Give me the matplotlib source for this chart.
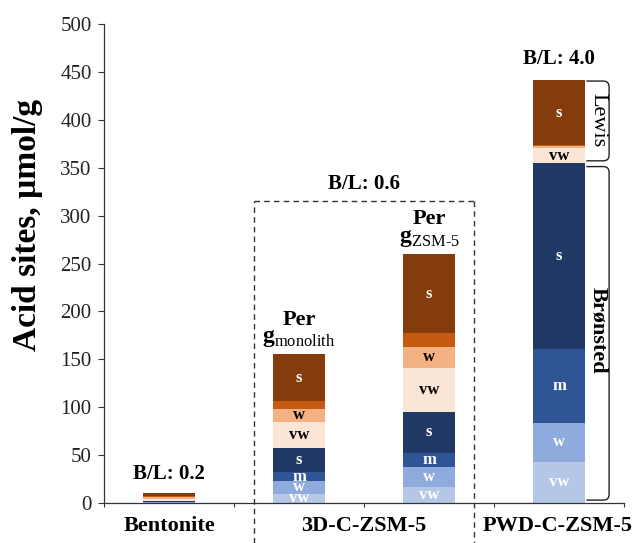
import matplotlib
matplotlib.use("Agg")
import matplotlib.pyplot as plt
from matplotlib.path import Path
from matplotlib.patches import PathPatch
from matplotlib.lines import Line2D

plt.rcParams["font.family"] = ["Liberation Serif", "DejaVu Serif"]
plt.rcParams["mathtext.fontset"] = "custom"
plt.rcParams["mathtext.rm"] = "Liberation Serif"
plt.rcParams["mathtext.bf"] = "Liberation Serif:bold"

# Samples (one stacked bar each)
samples = ["Bentonite", "3D monolith", "3D ZSM-5", "PWD-C-ZSM-5"]

# Acid site densities, umol/g, by strength (very weak, weak, medium, strong)
bronsted_vw = [0.5, 9.7, 16.4, 43.1]
bronsted_w = [0.5, 13.0, 20.9, 40.7]
bronsted_m = [0.3, 9.3, 15.2, 76.6]
bronsted_s = [0.4, 25.7, 42.8, 194.8]
lewis_vw = [2.8, 27.2, 45.9, 15.0]
lewis_w = [1.8, 12.9, 22.0, 2.0]
lewis_m = [1.2, 8.7, 13.9, 1.5]
lewis_s = [2.5, 48.7, 82.5, 67.8]

ratio_labels = ["B/L: 0.2", "B/L: 0.6", "B/L: 4.0"]
group_labels = ["Bentonite", "3D-C-ZSM-5", "PWD-C-ZSM-5"]
yticks = [0, 50, 100, 150, 200, 250, 300, 350, 400, 450, 500]

layers = [
    ("vw", bronsted_vw, "#b4c7e7", "white", True),
    ("w", bronsted_w, "#8faadc", "white", True),
    ("m", bronsted_m, "#2f5597", "white", True),
    ("s", bronsted_s, "#203864", "white", True),
    ("vw", lewis_vw, "#fbe5d6", "black", True),
    ("w", lewis_w, "#f4b183", "black", True),
    ("m", lewis_m, "#c55a11", "black", False),
    ("s", lewis_s, "#843c0c", "white", True),
]

fig = plt.figure(figsize=(6.39, 5.43), dpi=100)
ax = fig.add_axes([0.1628, 0.0737, 0.8138, 0.882])

x = list(range(len(samples)))
width = 0.4
bottom = [0.0] * len(samples)
for name, vals, color, tcolor, show in layers:
    ax.bar(x, vals, width, bottom=bottom, color=color, edgecolor="none", zorder=2)
    for i, v in enumerate(vals):
        if show and i > 0 and v >= 5:
            ax.text(x[i], bottom[i] + v / 2, name, ha="center", va="center",
                    color=tcolor, fontsize=12, fontweight="bold", zorder=3)
    bottom = [b + v for b, v in zip(bottom, vals)]

totals = bottom

ax.set_xlim(-0.5, 3.5)
ax.set_ylim(0, 500)
ax.set_yticks(yticks)
ax.set_xticks([-0.5, 0.5, 1.5, 2.5, 3.5])
ax.set_xticklabels([])
ax.tick_params(axis="y", labelsize=15, length=4, width=0.8, colors="#333333",
               labelcolor="#222222", pad=5)
ax.tick_params(axis="x", length=3, width=0.8, colors="#333333")
for side in ("top", "right"):
    ax.spines[side].set_visible(False)
for side in ("left", "bottom"):
    ax.spines[side].set_color("#333333")
    ax.spines[side].set_linewidth(0.9)
ax.set_ylabel("Acid sites, µmol/g", fontsize=24, fontweight="bold")
ax.yaxis.set_label_coords(-0.118, 0.58)

# Group captions under the axis
trans = ax.get_xaxis_transform()
for xc, lab in zip([0, 1.5, 2.99], group_labels):
    ax.text(xc, -0.048, lab, transform=trans, ha="center", va="center",
            fontsize=16, fontweight="bold")

# B/L ratio annotations
ax.text(0, totals[0] + 20, ratio_labels[0], ha="center", va="center", fontsize=15, fontweight="bold")
ax.text(1.5, 333, ratio_labels[1], ha="center", va="center", fontsize=15, fontweight="bold")
ax.text(3, totals[3] + 22, ratio_labels[2], ha="center", va="center", fontsize=15, fontweight="bold")

# Basis labels above the two 3D bars
ax.text(1, totals[1] + 36, "Per", ha="center", va="center", fontsize=16, fontweight="bold")
ax.text(1, totals[1] + 16, r"$\mathbf{g}_{\mathrm{monolith}}$", ha="center", va="center", fontsize=17)
ax.text(2, totals[2] + 37, "Per", ha="center", va="center", fontsize=16, fontweight="bold")
ax.text(2, totals[2] + 17, r"$\mathbf{g}_{\mathrm{ZSM\text{-}5}}$", ha="center", va="center", fontsize=17)

# Dashed box around the 3D-C-ZSM-5 pair
box_x0, box_x1, box_top, box_bot = 0.654, 2.346, 315, -42
for seg in ([(box_x0, box_x0), (box_bot, box_top)],
            [(box_x0, box_x1), (box_top, box_top)],
            [(box_x1, box_x1), (box_top, box_bot)]):
    ax.add_line(Line2D(seg[0], seg[1], color="#333333", lw=1.0,
                       linestyle=(0, (4, 3)), clip_on=False, zorder=1))


def bracket(ax, y0, y1, x0=3.21, x1=3.385, r=0.045, ry=6):
    verts = [(x0, y1), (x1 - r, y1), (x1, y1), (x1, y1 - ry),
             (x1, y0 + ry), (x1, y0), (x1 - r, y0), (x0, y0)]
    codes = [Path.MOVETO, Path.LINETO, Path.CURVE3, Path.CURVE3,
             Path.LINETO, Path.CURVE3, Path.CURVE3, Path.LINETO]
    ax.add_patch(PathPatch(Path(verts, codes), fill=False, lw=1.0,
                           edgecolor="#222222", clip_on=False, zorder=3))


lewis_top = totals[3]
lewis_bot = sum(v[3] for v in (bronsted_vw, bronsted_w, bronsted_m, bronsted_s)) + 2
bracket(ax, lewis_bot, lewis_top - 1)
bracket(ax, 3, lewis_bot - 6)
ax.text(3.3, (lewis_top + lewis_bot) / 2, "Lewis", rotation=270, ha="center",
        va="center", fontsize=16)
ax.text(3.3, (3 + lewis_bot) / 2, "Brønsted", rotation=270, ha="center",
        va="center", fontsize=16, fontweight="bold")

fig.savefig("out.png", dpi=100)
